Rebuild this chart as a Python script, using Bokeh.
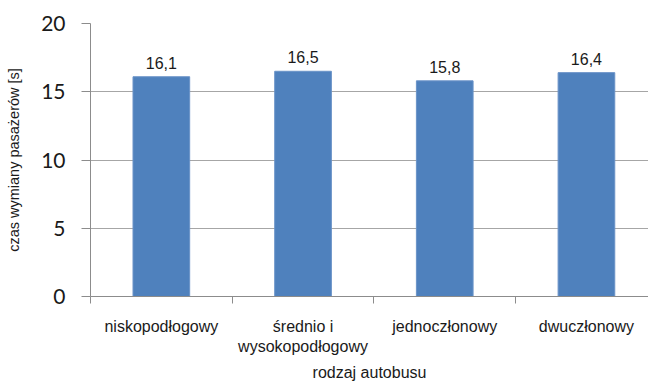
from bokeh.plotting import figure
from bokeh.models import FixedTicker, ColumnDataSource, Range1d
from bokeh.core.properties import value
from bokeh.embed import file_html
from bokeh.resources import INLINE

categories = ["niskopodłogowy", "średnio i\nwysokopodłogowy", "jednoczłonowy", "dwuczłonowy"]
values = [16.1, 16.5, 15.8, 16.4]
value_labels = ["16,1", "16,5", "15,8", "16,4"]
y_ticks = [0, 5, 10, 15, 20]

FONT = "Liberation Sans"

xs = [i + 0.5 for i in range(len(categories))]
src = ColumnDataSource(dict(x=xs, top=values, lab=value_labels))

p = figure(width=648, height=385, output_backend="svg", toolbar_location=None,
           x_range=Range1d(0, 3.938), y_range=Range1d(0, 20),
           min_border_left=90, min_border_right=0, min_border_top=23, min_border_bottom=89)
p.outline_line_color = None
p.background_fill_color = "white"
p.border_fill_color = "white"

p.vbar(x="x", top="top", width=0.4, source=src, fill_color="#4f81bd", line_color="#6a93c8", line_width=1)
p.text(x="x", y="top", text="lab", source=src, text_align="center", text_baseline="bottom",
       y_offset=-8, text_font=value(FONT), text_font_size="16px", text_color="#1a1a1a")

# x axis
p.xgrid.visible = False
xa = p.xaxis[0]
xa.ticker = FixedTicker(ticks=xs, minor_ticks=[0, 1, 2, 3, 4])
xa.major_label_overrides = {x: c for x, c in zip(xs, categories)}
xa.major_tick_line_color = None
xa.major_tick_out = 0
xa.major_tick_in = 0
xa.minor_tick_out = 7
xa.minor_tick_in = 0
xa.minor_tick_line_color = "#8c8c8c"
xa.axis_line_color = "#8c8c8c"
xa.major_label_standoff = 14
xa.major_label_text_font = FONT
xa.major_label_text_font_size = "16px"
xa.major_label_text_color = "#1a1a1a"
xa.axis_label = "rodzaj autobusu"
xa.axis_label_text_font = FONT
xa.axis_label_text_font_size = "16px"
xa.axis_label_text_font_style = "normal"
xa.axis_label_text_color = "#1a1a1a"
xa.axis_label_standoff = 6

# y axis
ya = p.yaxis[0]
ya.ticker = FixedTicker(ticks=y_ticks)
ya.minor_tick_line_color = None
ya.major_tick_out = 9
ya.major_tick_in = 0
ya.major_tick_line_color = "#8c8c8c"
ya.axis_line_color = "#8c8c8c"
ya.major_label_standoff = 16
ya.major_label_text_font = "Lato"
ya.major_label_text_font_size = "21px"
ya.major_label_text_color = "#1a1a1a"
ya.axis_label = "czas wymiany pasażerów [s]"
ya.axis_label_text_font = FONT
ya.axis_label_text_font_size = "14.5px"
ya.axis_label_text_font_style = "normal"
ya.axis_label_text_color = "#1a1a1a"
ya.axis_label_standoff = 16

p.ygrid.ticker = FixedTicker(ticks=y_ticks)
p.ygrid.grid_line_color = "#a6a6a6"
p.ygrid.grid_line_width = 1

open("out.html", "w").write(file_html(p, INLINE))
